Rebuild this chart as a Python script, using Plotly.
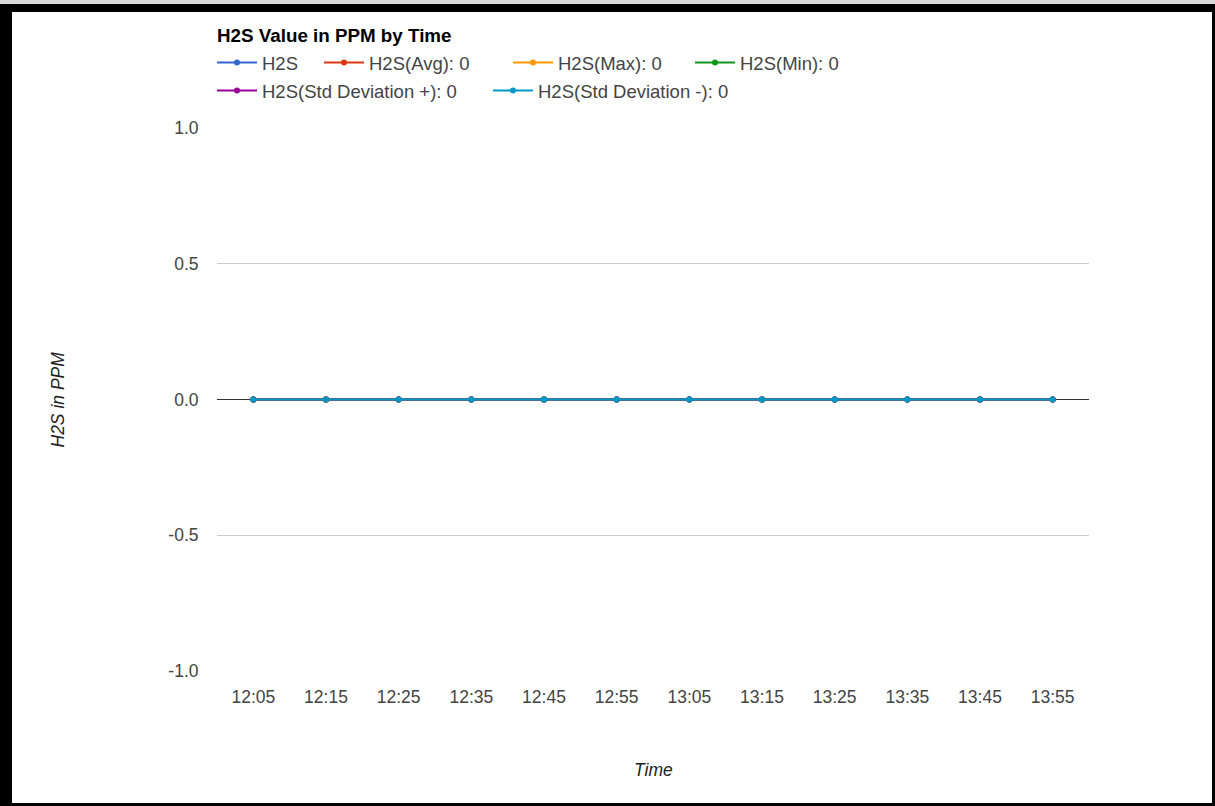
import plotly.graph_objects as go

# Sample times along the x axis
times = ["12:05", "12:15", "12:25", "12:35", "12:45", "12:55",
         "13:05", "13:15", "13:25", "13:35", "13:45", "13:55"]

# H2S readings and derived statistic series (ppm)
h2s = [0, 0, 0, 0, 0, 0, 0, 0, 0, 0, 0, 0]
h2s_avg = [0, 0, 0, 0, 0, 0, 0, 0, 0, 0, 0, 0]
h2s_max = [0, 0, 0, 0, 0, 0, 0, 0, 0, 0, 0, 0]
h2s_min = [0, 0, 0, 0, 0, 0, 0, 0, 0, 0, 0, 0]
h2s_std_plus = [0, 0, 0, 0, 0, 0, 0, 0, 0, 0, 0, 0]
h2s_std_minus = [0, 0, 0, 0, 0, 0, 0, 0, 0, 0, 0, 0]

# Summary values shown in the legend
stat_avg = 0
stat_max = 0
stat_min = 0
stat_std_plus = 0
stat_std_minus = 0

# y axis ticks
y_tick_values = [-1.0, -0.5, 0.0, 0.5, 1.0]
y_tick_labels = ["-1.0", "-0.5", "0.0", "0.5", "1.0"]

W, H = 1215, 806
PL, PR, PT, PB = 217, 1089, 128, 671
FONT = "Liberation Sans, Arial, sans-serif"


def fx(px):
    return (px - PL) / (PR - PL)


def fy(py):
    return (PB - py) / (PB - PT)


series = [
    ("H2S", h2s, "#3366cc", "legend", 217, 63),
    (f"H2S(Avg): {stat_avg}", h2s_avg, "#dc3912", "legend2", 324, 63),
    (f"H2S(Max): {stat_max}", h2s_max, "#ff9900", "legend3", 513, 63),
    (f"H2S(Min): {stat_min}", h2s_min, "#109618", "legend4", 695, 63),
    (f"H2S(Std Deviation +): {stat_std_plus}", h2s_std_plus, "#990099", "legend5", 217, 91),
    (f"H2S(Std Deviation -): {stat_std_minus}", h2s_std_minus, "#0099c6", "legend6", 493, 91),
]

fig = go.Figure()
legend_layouts = {}
for name, vals, color, leg, lx, ly in series:
    fig.add_trace(go.Scatter(
        x=times, y=vals, name=name, mode="lines+markers",
        line=dict(color=color, width=2),
        marker=dict(color=color, size=6),
        legend=leg, showlegend=True,
    ))
    legend_layouts[leg] = dict(
        x=fx(lx - 5), xanchor="left", xref="paper",
        y=fy(ly), yanchor="middle", yref="paper",
        orientation="h", bgcolor="rgba(0,0,0,0)", visible=True,
        font=dict(family=FONT, size=18.5, color="#444444"),
        itemwidth=40,
    )

shapes = [
    # frame around the chart
    dict(type="rect", xref="paper", yref="paper", layer="below",
         x0=fx(0), x1=fx(W), y0=fy(H), y1=fy(4),
         fillcolor="#000000", line=dict(width=0)),
    dict(type="rect", xref="paper", yref="paper", layer="below",
         x0=fx(12), x1=fx(1212), y0=fy(803), y1=fy(12),
         fillcolor="#ffffff", line=dict(width=0)),
]

annotations = [
    dict(text="<i>H2S in PPM</i>", x=fx(57), y=0.5, xref="paper", yref="paper",
         textangle=-90, showarrow=False, xanchor="center", yanchor="middle",
         font=dict(family=FONT, size=17.5, color="#222222")),
    dict(text="<i>Time</i>", x=0.5, y=fy(770), xref="paper", yref="paper",
         showarrow=False, xanchor="center", yanchor="middle",
         font=dict(family=FONT, size=17.5, color="#222222")),
]

fig.update_layout(
    width=W, height=H,
    showlegend=True,
    margin=dict(l=PL, r=W - PR, t=PT, b=H - PB, autoexpand=False),
    paper_bgcolor="#d9d9d9",
    plot_bgcolor="rgba(0,0,0,0)",
    font=dict(family=FONT, size=17.5, color="#444444"),
    title=dict(text="<b>H2S Value in PPM by Time</b>", x=0, xref="paper",
               xanchor="left", y=1 - 35 / H, yref="container", yanchor="middle",
               font=dict(family=FONT, size=18.8, color="#000000")),
    xaxis=dict(type="category", range=[-0.5, len(times) - 0.5],
               showgrid=False, zeroline=False, showline=False,
               ticks="outside", ticklen=10, tickcolor="rgba(0,0,0,0)",
               tickfont=dict(family=FONT, size=17.5, color="#444444"),
               fixedrange=True),
    yaxis=dict(range=[-1, 1], tickvals=y_tick_values, ticktext=y_tick_labels,
               showgrid=True, gridcolor="#cccccc", gridwidth=1,
               zeroline=True, zerolinecolor="#333333", zerolinewidth=1,
               showline=False, ticks="outside", ticklen=14,
               tickcolor="rgba(0,0,0,0)",
               tickfont=dict(family=FONT, size=17.5, color="#444444"),
               fixedrange=True),
    shapes=shapes,
    annotations=annotations,
    **legend_layouts,
)

fig.write_html("out.html")
